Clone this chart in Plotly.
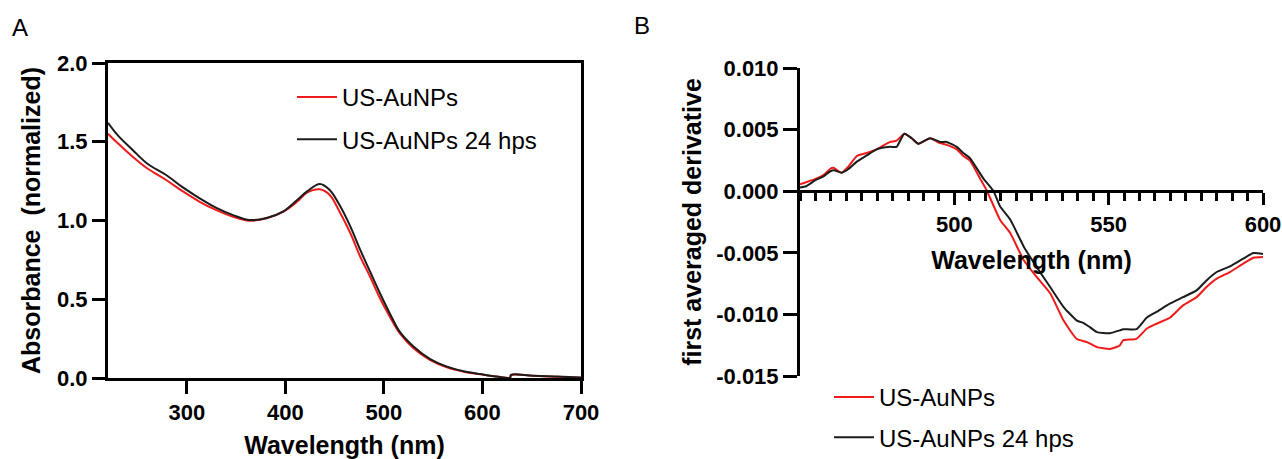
import plotly.graph_objects as go

# ---------------- Data ----------------
series_names = ["US-AuNPs", "US-AuNPs 24 hps"]

# Panel A: normalized absorbance spectra
wl_a = [220, 230, 245, 260, 279, 296, 313, 330, 347, 364, 381, 398, 412, 422,
        435, 445, 455, 466, 476, 486, 496, 506, 516, 530, 547, 564, 581, 598,
        615, 628, 629, 651, 675, 700]
abs_red = [1.551, 1.49, 1.405, 1.33, 1.257, 1.185, 1.119, 1.066, 1.024, 0.999,
           1.014, 1.056, 1.12, 1.177, 1.198, 1.162, 1.056, 0.919, 0.77, 0.643,
           0.506, 0.389, 0.284, 0.189, 0.114, 0.068, 0.04, 0.023, 0.008, 0.002,
           0.019, 0.014, 0.008, 0.002]
abs_black = [1.62, 1.54, 1.448, 1.36, 1.289, 1.21, 1.141, 1.08, 1.034, 1.003,
             1.016, 1.058, 1.13, 1.185, 1.232, 1.194, 1.098, 0.961, 0.813, 0.675,
             0.538, 0.41, 0.294, 0.2, 0.12, 0.072, 0.043, 0.025, 0.009, 0.003,
             0.02, 0.015, 0.009, 0.003]

# Panel B: first averaged derivative
wl_b_red = [450, 455, 457.6, 459.7, 460.8, 463.5, 465.7, 468.4, 471.6, 474.8,
            479.2, 481.3, 483.8, 486.2, 488.3, 492.1, 495.4, 497.5, 500.8, 502.9,
            505, 508.4, 510.6, 514.9, 518.1, 522.5, 526.8, 531.1, 535.4, 539.7,
            543, 546.2, 550.4, 553.6, 554.7, 559, 562.3, 565.5, 569.8, 574.1,
            578.5, 581.7, 585, 589.3, 593.6, 596.9, 600]
der_red = [0.00055, 0.0010, 0.0013, 0.0018, 0.0019, 0.0015, 0.0020, 0.00286,
           0.0031, 0.0034, 0.0040, 0.0041, 0.00467, 0.0043, 0.00385, 0.0043,
           0.0039, 0.00376, 0.0034, 0.00286, 0.0025, 0.0010, 0.0, -0.00236,
           -0.0034, -0.0056, -0.0070, -0.0083, -0.0105, -0.0120, -0.01225,
           -0.01266, -0.0128, -0.01252, -0.0121, -0.01198, -0.01116, -0.01076,
           -0.01027, -0.00927, -0.0086, -0.00778, -0.0071, -0.00656, -0.00588,
           -0.0054, -0.00534]

wl_b_black = [450, 452, 455, 457.6, 459.7, 461, 463.5, 465.7, 468.4, 471.6,
              474.8, 479.2, 481.3, 483.8, 486.2, 488.3, 492.1, 495.4, 497.5,
              500.8, 502.9, 505, 509.5, 512.7, 514.9, 518.1, 522.5, 526.8,
              531.1, 535.4, 539.7, 541.9, 543.9, 546.2, 550.4, 553.6, 554.7,
              559, 562.3, 565.5, 569.8, 574.1, 578.5, 581.7, 585, 589.3, 593.6,
              596.9, 600]
der_black = [0.0003, 0.0004, 0.0009, 0.0012, 0.0016, 0.0017, 0.0015, 0.0018,
             0.0024, 0.0029, 0.0034, 0.0036, 0.0036, 0.00467, 0.0043, 0.00385,
             0.0043, 0.0040, 0.0040, 0.0036, 0.0031, 0.0027, 0.0010, 0.0,
             -0.00127, -0.0023, -0.0045, -0.0062, -0.0078, -0.0094, -0.0105,
             -0.0107, -0.01103, -0.01144, -0.01152, -0.0113, -0.0112, -0.0112,
             -0.01027, -0.0098, -0.00913, -0.0086, -0.00805, -0.00724, -0.00656,
             -0.0061, -0.00547, -0.00502, -0.0051]

xticks_a = [300, 400, 500, 600, 700]
yticks_a = [0.0, 0.5, 1.0, 1.5, 2.0]
xticks_b = [500, 550, 600]
yticks_b = [-0.015, -0.010, -0.005, 0.0, 0.005, 0.010]

# ---------------- Styling ----------------
RED = "#f01a1a"
BLACK = "#1c1c1c"
FONT = "Liberation Sans, Arial, sans-serif"
tick_font = dict(family=FONT, size=22, color="black", weight="bold")
title_font = dict(family=FONT, size=25, color="black", weight="bold")

fig = go.Figure()

# Panel A traces
fig.add_trace(go.Scatter(x=wl_a, y=abs_red, name=series_names[0], mode="lines",
                         line=dict(color=RED, width=2, shape="spline", smoothing=1.0),
                         xaxis="x", yaxis="y", legend="legend", legendgroup="a1"))
fig.add_trace(go.Scatter(x=wl_a, y=abs_black, name=series_names[1], mode="lines",
                         line=dict(color=BLACK, width=2, shape="spline", smoothing=1.0),
                         xaxis="x", yaxis="y", legend="legend", legendgroup="a2"))
# Panel B traces
fig.add_trace(go.Scatter(x=wl_b_red, y=der_red, name=series_names[0], mode="lines",
                         line=dict(color=RED, width=2, shape="spline", smoothing=0.5),
                         xaxis="x2", yaxis="y2", legend="legend2", legendgroup="b1"))
fig.add_trace(go.Scatter(x=wl_b_black, y=der_black, name=series_names[1], mode="lines",
                         line=dict(color=BLACK, width=2, shape="spline", smoothing=0.5),
                         xaxis="x2", yaxis="y2", legend="legend2", legendgroup="b2"))

# Panel domains (paper coords)
ax_dom_x = [108 / 1282, 581 / 1282]
ax_dom_y = [1 - 378 / 459, 1 - 63 / 459]
bx_dom_x = [800 / 1282, 1263 / 1282]
bx_dom_y = [1 - 376 / 459, 1 - 68 / 459]
yb_range = [-0.015, 0.010]
zero_pos = bx_dom_y[0] + (0 - yb_range[0]) / (yb_range[1] - yb_range[0]) * (bx_dom_y[1] - bx_dom_y[0])

common_axis = dict(showgrid=False, zeroline=False, showline=True, linecolor="black",
                   linewidth=3, ticks="outside", tickcolor="black", tickwidth=3,
                   automargin=False)

fig.update_layout(
    width=1282, height=459,
    margin=dict(l=0, r=0, t=0, b=0, autoexpand=False),
    paper_bgcolor="white", plot_bgcolor="white",
    font=dict(family=FONT, color="black"),
    xaxis=dict(domain=ax_dom_x, range=[220, 700], anchor="y", mirror=True,
               tickvals=xticks_a, ticktext=[str(v) for v in xticks_a], ticklen=13,
               tickfont=tick_font,
               title=dict(text="Wavelength (nm)", font=title_font, standoff=14),
               **common_axis),
    yaxis=dict(domain=ax_dom_y, range=[0, 2], anchor="x", mirror=True,
               tickvals=yticks_a, ticktext=[f"{v:.1f}" for v in yticks_a], ticklen=13,
               tickfont=tick_font,
               title=dict(text="Absorbance\u00a0 (normalized)", font=title_font, standoff=10),
               **common_axis),
    xaxis2=dict(domain=bx_dom_x, range=[450, 600], anchor="free", position=zero_pos,
                tickvals=xticks_b, ticktext=[str(v) for v in xticks_b], ticklen=12,
                tickfont=tick_font,
                minor=dict(dtick=5, tick0=450, ticks="outside", ticklen=8,
                           tickwidth=2.5, tickcolor="black"),
                title=dict(text="Wavelength (nm)", font=title_font, standoff=15),
                **common_axis),
    yaxis2=dict(domain=bx_dom_y, range=yb_range, anchor="x2",
                tickvals=yticks_b, ticktext=[f"{v:.3f}" for v in yticks_b], ticklen=14,
                tickfont=tick_font,
                title=dict(text="first averaged derivative", font=title_font, standoff=8),
                **common_axis),
    legend=dict(x=292 / 1282, y=1 - 75 / 459, xanchor="left", yanchor="top",
                bgcolor="rgba(0,0,0,0)", font=dict(family=FONT, size=24, color="black"),
                tracegroupgap=8, itemwidth=40),
    legend2=dict(x=829 / 1282, y=1 - 375 / 459, xanchor="left", yanchor="top",
                 bgcolor="rgba(0,0,0,0)", font=dict(family=FONT, size=24, color="black"),
                 tracegroupgap=6, itemwidth=40),
    showlegend=True,
    annotations=[
        dict(text="A", x=10 / 1282, y=1 - 12 / 459, xref="paper", yref="paper",
             xanchor="left", yanchor="top", showarrow=False,
             font=dict(family=FONT, size=24, color="black")),
        dict(text="B", x=632 / 1282, y=1 - 10 / 459, xref="paper", yref="paper",
             xanchor="left", yanchor="top", showarrow=False,
             font=dict(family=FONT, size=24, color="black")),
    ],
)

fig.write_html("out.html", config={"displayModeBar": False},
               post_script="document.body.style.margin='0';")
